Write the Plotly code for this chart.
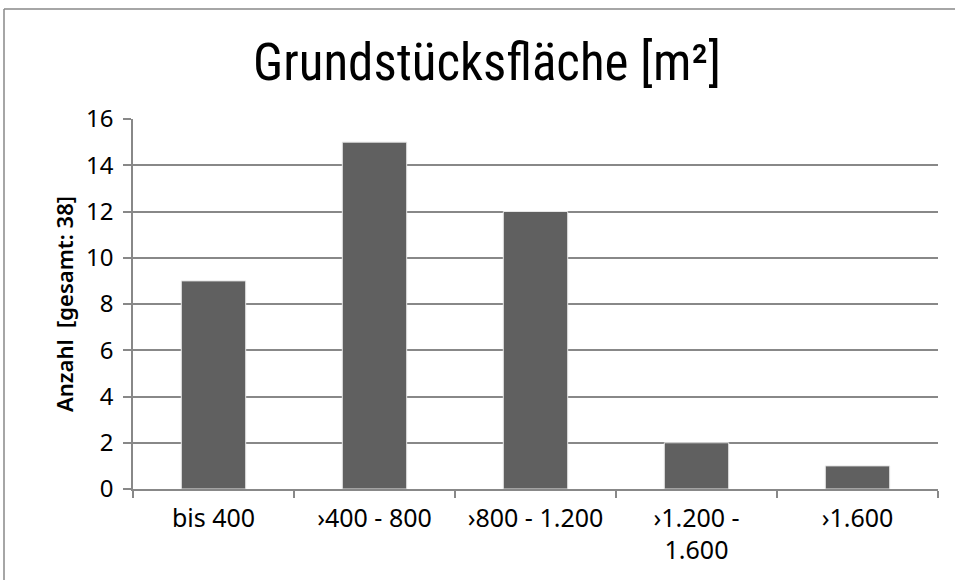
import plotly.graph_objects as go

categories = ["bis 400", "›400 - 800", "›800 - 1.200", "›1.200 -<br>1.600", "›1.600"]
values = [9, 15, 12, 2, 1]
y_ticks = [0, 2, 4, 6, 8, 10, 12, 14, 16]

title_text = "Grundstücksfläche [m²]"
y_title = "Anzahl  [gesamt: 38]"

W, H = 955, 580
L, R, T, B = 133, 17, 119, 91

title_font = "Roboto Condensed"
font = "Noto Sans"
gray = "#888888"

fig = go.Figure(go.Bar(
    x=categories, y=values,
    marker=dict(color="#606060", line=dict(color="#e6e6e6", width=1)),
    width=0.4,
))

fig.update_layout(
    width=W, height=H,
    margin=dict(l=L, r=R, t=T, b=B),
    paper_bgcolor="white", plot_bgcolor="white",
    showlegend=False,
    title=dict(text=title_text, x=487 / W, xanchor="center",
               y=1 - 62 / H, yanchor="middle",
               font=dict(family=title_font, size=51, color="black")),
    font=dict(family=font, color="black"),
    xaxis=dict(
        type="category",
        showline=True, linecolor=gray, linewidth=1.5,
        ticks="outside", tickson="boundaries", ticklen=7, tickcolor=gray, tickwidth=1.5,
        tickfont=dict(size=25, family=font), showgrid=False,
        ticklabelstandoff=6,
    ),
    yaxis=dict(
        range=[0, 16], tickvals=y_ticks,
        showline=True, linecolor=gray, linewidth=1.5,
        ticks="outside", ticklen=8, tickcolor=gray, tickwidth=1.5,
        showgrid=True, gridcolor=gray, gridwidth=1.5,
        zeroline=False,
        tickfont=dict(size=24, family=font),
        ticklabelstandoff=5,
        title=dict(text=y_title, font=dict(size=22, family=font, weight=600), standoff=6),
    ),
    shapes=[
        dict(type="line", xref="paper", yref="paper",
             x0=(4 - L) / (W - L - R), x1=(W - L) / (W - L - R),
             y0=(H - B - 9) / (H - T - B), y1=(H - B - 9) / (H - T - B),
             line=dict(color=gray, width=1.5)),
        dict(type="line", xref="paper", yref="paper",
             x0=(4 - L) / (W - L - R), x1=(4 - L) / (W - L - R),
             y0=(H - B - 9) / (H - T - B), y1=-B / (H - T - B) - 0.01,
             line=dict(color=gray, width=1.5)),
    ],
)

fig.write_html("out.html", config={"displayModeBar": False},
               post_script="document.body.style.margin='0';")
